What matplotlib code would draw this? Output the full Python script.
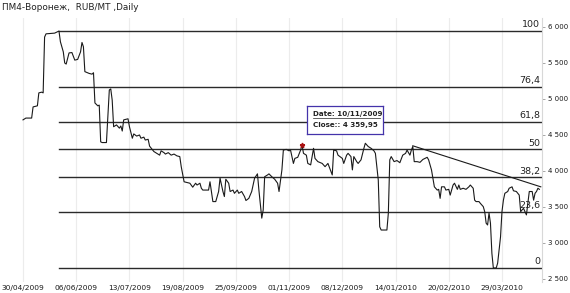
import numpy as np
import matplotlib.pyplot as plt

# Close prices (date, RUB/MT)
dates = [
    "2009-04-30", "2009-05-02", "2009-05-06", "2009-05-07", "2009-05-10", "2009-05-11", "2009-05-13",
    "2009-05-14", "2009-05-15", "2009-05-16", "2009-05-22", "2009-05-25", "2009-05-26", "2009-05-28",
    "2009-05-29", "2009-05-30", "2009-06-01", "2009-06-03", "2009-06-05", "2009-06-07", "2009-06-09",
    "2009-06-10", "2009-06-11", "2009-06-12", "2009-06-15", "2009-06-17", "2009-06-18", "2009-06-19",
    "2009-06-21", "2009-06-22", "2009-06-23", "2009-06-24", "2009-06-27", "2009-06-29", "2009-06-30",
    "2009-07-01", "2009-07-02", "2009-07-04", "2009-07-06", "2009-07-07", "2009-07-08", "2009-07-09",
    "2009-07-12", "2009-07-13", "2009-07-15", "2009-07-16", "2009-07-18", "2009-07-20", "2009-07-21",
    "2009-07-23", "2009-07-24", "2009-07-26", "2009-07-27", "2009-07-30", "2009-08-01", "2009-08-03",
    "2009-08-04", "2009-08-06", "2009-08-07", "2009-08-09", "2009-08-11", "2009-08-13", "2009-08-15",
    "2009-08-17", "2009-08-18", "2009-08-20", "2009-08-22", "2009-08-24", "2009-08-26", "2009-08-28",
    "2009-08-29", "2009-08-31", "2009-09-01", "2009-09-02", "2009-09-06", "2009-09-07", "2009-09-08",
    "2009-09-09", "2009-09-11", "2009-09-13", "2009-09-14", "2009-09-16", "2009-09-17", "2009-09-18",
    "2009-09-20", "2009-09-21", "2009-09-23", "2009-09-24", "2009-09-26", "2009-09-27", "2009-09-29",
    "2009-10-01", "2009-10-02", "2009-10-04", "2009-10-06", "2009-10-08", "2009-10-10", "2009-10-11",
    "2009-10-13", "2009-10-14", "2009-10-15", "2009-10-17", "2009-10-18", "2009-10-20", "2009-10-22",
    "2009-10-24", "2009-10-25", "2009-10-27", "2009-10-28", "2009-10-30", "2009-11-01", "2009-11-02",
    "2009-11-04", "2009-11-05", "2009-11-07", "2009-11-09", "2009-11-10", "2009-11-11", "2009-11-13",
    "2009-11-14", "2009-11-16", "2009-11-18", "2009-11-19", "2009-11-21", "2009-11-24", "2009-11-26",
    "2009-11-28", "2009-12-01", "2009-12-02", "2009-12-04", "2009-12-05", "2009-12-08", "2009-12-09",
    "2009-12-11", "2009-12-12", "2009-12-14", "2009-12-15", "2009-12-16", "2009-12-18", "2009-12-19",
    "2009-12-21", "2009-12-23", "2009-12-24", "2009-12-26", "2009-12-28", "2009-12-30", "2009-12-31",
    "2010-01-02", "2010-01-03", "2010-01-04", "2010-01-08", "2010-01-09", "2010-01-10", "2010-01-11",
    "2010-01-13", "2010-01-15", "2010-01-17", "2010-01-19", "2010-01-21", "2010-01-22", "2010-01-24",
    "2010-01-25", "2010-01-26", "2010-01-27", "2010-01-29", "2010-01-31", "2010-02-02", "2010-02-05",
    "2010-02-06", "2010-02-08", "2010-02-10", "2010-02-12", "2010-02-13", "2010-02-14", "2010-02-15",
    "2010-02-17", "2010-02-18", "2010-02-20", "2010-02-21", "2010-02-23", "2010-02-24", "2010-02-26",
    "2010-02-27", "2010-02-28", "2010-03-02", "2010-03-04", "2010-03-06", "2010-03-07", "2010-03-09",
    "2010-03-10", "2010-03-11", "2010-03-13", "2010-03-14", "2010-03-16", "2010-03-17", "2010-03-18",
    "2010-03-19", "2010-03-20", "2010-03-21", "2010-03-22", "2010-03-23", "2010-03-25", "2010-03-26",
    "2010-03-28", "2010-03-29", "2010-03-30", "2010-03-31", "2010-04-02", "2010-04-03", "2010-04-05",
    "2010-04-06", "2010-04-08", "2010-04-10", "2010-04-11", "2010-04-12", "2010-04-13", "2010-04-15",
    "2010-04-16", "2010-04-17", "2010-04-19", "2010-04-20", "2010-04-21", "2010-04-22", "2010-04-23",
    "2010-04-24",
]
close = [
    4710, 4735, 4735, 4890, 4905, 5085, 5095,
    5085, 5860, 5905, 5915, 5944, 5795, 5655,
    5500, 5485, 5640, 5645, 5540, 5550, 5655,
    5785, 5725, 5380, 5355, 5345, 5365, 4945,
    4905, 4915, 4405, 4395, 4395, 5125, 5140,
    4985, 4615, 4640, 4595, 4625, 4555, 4710,
    4725, 4615, 4455, 4515, 4485, 4500, 4455,
    4470, 4430, 4440, 4345, 4270, 4245, 4220,
    4280, 4255, 4235, 4255, 4220, 4235, 4210,
    4200, 4060, 3850, 3840, 3830, 3775, 3830,
    3805, 3830, 3760, 3735, 3735, 3850, 3715,
    3575, 3575, 3715, 3900, 3715, 3645, 3885,
    3830, 3715, 3735, 3690, 3735, 3690, 3715,
    3645, 3590, 3620, 3715, 3900, 3960, 3735,
    3345, 3460, 3920, 3945, 3960, 3920, 3885,
    3830, 3715, 4015, 4290, 4300, 4280, 4290,
    4105, 4175, 4190, 4290, 4360, 4245, 4220,
    4105, 4085, 4315, 4175, 4130, 4105, 4060,
    4105, 3945, 4290, 4280, 4220, 4175, 4105,
    4220, 4245, 4200, 4015, 4200, 4130, 4105,
    4155, 4315, 4385, 4340, 4315, 4280, 4245,
    3875, 3225, 3180, 3180, 3415, 4155, 4200,
    4130, 4145, 4115, 4220, 4245, 4290, 4220,
    4290, 4340, 4130, 4130, 4120, 4160, 4190,
    4155, 4015, 3780, 3735, 3745, 3620, 3780,
    3780, 3735, 3745, 3665, 3805, 3830, 3745,
    3805, 3745, 3760, 3745, 3780, 3805, 3760,
    3595, 3575, 3575, 3550, 3505, 3435, 3275,
    3250, 3415, 3275, 2855, 2653, 2653, 2720,
    3085, 3435, 3595, 3690, 3715, 3760, 3780,
    3725, 3715, 3665, 3435, 3460, 3480, 3390,
    3550, 3715, 3715, 3595, 3690, 3715, 3760,
    3745,
]

fib_ratios = [1.0, 0.764, 0.618, 0.5, 0.382, 0.236, 0.0]
fib_labels = ["100", "76,4", "61,8", "50", "38,2", "23,6", "0"]

trend_dates = ["2010-01-26", "2010-04-25"]
trend_values = [4350, 3780]

marked_date = "2009-11-10"
marked_close = 4359.95

tick_dates = ["2009-04-30", "2009-06-06", "2009-07-13", "2009-08-19", "2009-09-25",
              "2009-11-01", "2009-12-08", "2010-01-14", "2010-02-20", "2010-03-29"]
y_ticks = [2500, 3000, 3500, 4000, 4500, 5000, 5500, 6000]

x = np.array(dates, dtype="datetime64[D]")
y = np.array(close, dtype=float)

fig = plt.figure(figsize=(5.7, 2.93), dpi=100)
ax = fig.add_axes([0.0, 1 - 282 / 293, 542 / 570, (282 - 18) / 293])

for s in ["top", "left", "bottom"]:
    ax.spines[s].set_visible(False)
ax.spines["right"].set_color("#d8d8d8")
ax.spines["right"].set_linewidth(0.8)

xt = np.array(tick_dates, dtype="datetime64[D]")
ax.set_xticks(xt)
xlabels = []
for d in xt:
    yy, mm, dd = np.datetime_as_string(d).split("-")
    xlabels.append(f"{dd}/{mm}/{yy}")
ax.set_xticklabels(xlabels, fontsize=5.4, color="#1a1a1a")
ax.grid(axis="x", color="#ececec", linewidth=0.8)
ax.tick_params(axis="x", length=0, pad=2)

ax.yaxis.tick_right()
ax.set_yticks(y_ticks)
ax.set_yticklabels([f"{v:,}".replace(",", " ") for v in y_ticks], fontsize=5.0, color="#1a1a1a")
ax.tick_params(axis="y", length=2, width=0.6, color="#999999", pad=2)

ax.set_xlim(np.datetime64("2009-04-14"), np.datetime64("2010-04-25T20"))
ax.set_ylim(2458, 6125)

# fibonacci retracement from the high to the low
hi, lo = y.max(), y.min()
x_hi = x[np.argmax(y)]
x_end = np.datetime64("2010-04-25T20")
for r, lab in zip(fib_ratios, fib_labels):
    lvl = lo + r * (hi - lo)
    ax.plot([x_hi, x_end], [lvl, lvl], color="#2a2a2a", lw=1.0, zorder=2)
    ax.text(np.datetime64("2010-04-24T12"), lvl + 25, lab, ha="right", va="bottom",
            fontsize=6.8, color="#222222")

ax.plot(x, y, color="#1a1a1a", lw=0.8, zorder=3)
ax.plot(np.array(trend_dates, dtype="datetime64[D]"), trend_values, color="#1a1a1a", lw=0.8, zorder=3)

ax.plot(np.datetime64(marked_date), marked_close, marker="*", color="#aa1111", ms=3.5, zorder=4)

# tooltip box
box = fig.add_axes([306.5 / 570, 1 - 134 / 293, 76 / 570, 28 / 293])
box.set_xticks([])
box.set_yticks([])
for s in box.spines.values():
    s.set_color("#4433aa")
    s.set_linewidth(0.9)
box.text(0.08, 0.72, "Date: 10/11/2009", fontsize=5.1, fontweight="bold", color="#222222",
         va="center", transform=box.transAxes)
box.plot([0.08, 0.97], [0.56, 0.56], color="#222222", lw=0.5, transform=box.transAxes)
box.text(0.08, 0.32, "Close:: 4 359,95", fontsize=5.1, fontweight="bold", color="#222222",
         va="center", transform=box.transAxes)
box.set_xlim(0, 1)
box.set_ylim(0, 1)

fig.text(0.004, 1 - 7 / 293, "ПМ4-Воронеж,  RUB/MT ,Daily", fontsize=6.4, color="#222222", va="center")

fig.savefig("out.png", dpi=100)
